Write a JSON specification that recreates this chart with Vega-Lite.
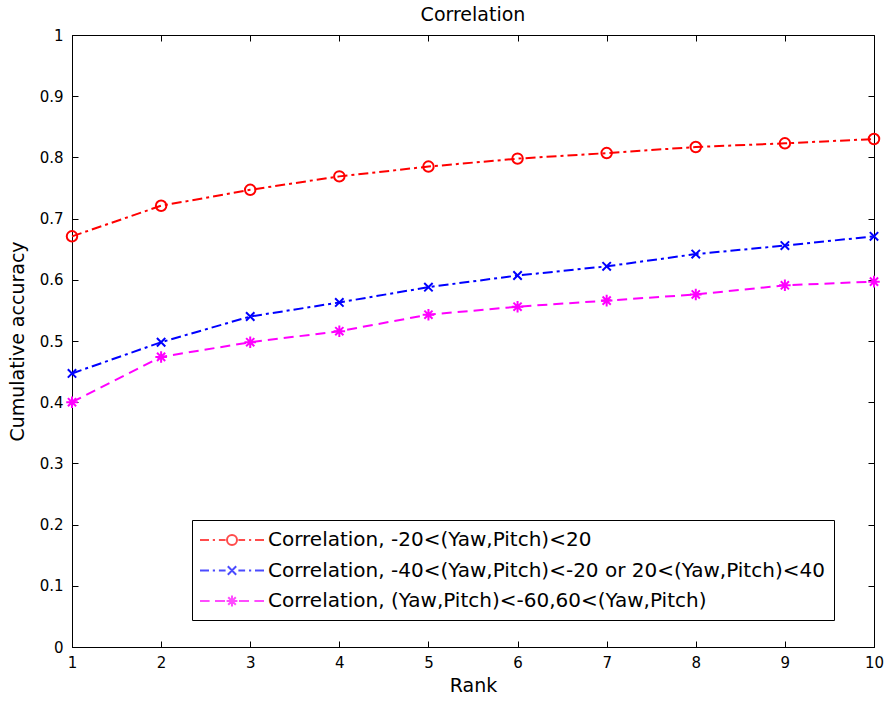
{
  "$schema": "https://vega.github.io/schema/vega-lite/v6.json",
  "width": 802,
  "height": 612,
  "autosize": {"type": "none"},
  "padding": {"left": 72, "top": 35, "right": 14, "bottom": 57},
  "background": "white",
  "title": {"text": "Correlation", "fontSize": 19, "font": "DejaVu Sans", "fontWeight": "normal", "offset": 3, "color": "black"},
  "config": {
    "font": "DejaVu Sans",
    "view": {"stroke": "black", "strokeWidth": 1},
    "axis": {"grid": false, "domainColor": "black", "tickColor": "black", "labelColor": "black", "titleColor": "black", "labelFontSize": 15, "titleFontSize": 19, "titleFontWeight": "normal", "tickSize": -6, "labelFlush": false, "labelFont": "DejaVu Sans", "titleFont": "DejaVu Sans"}
  },
  "data": {"values": [
    {"rank": 1, "acc": 0.671, "series": "Correlation, -20<(Yaw,Pitch)<20"},
    {"rank": 2, "acc": 0.721, "series": "Correlation, -20<(Yaw,Pitch)<20"},
    {"rank": 3, "acc": 0.747, "series": "Correlation, -20<(Yaw,Pitch)<20"},
    {"rank": 4, "acc": 0.769, "series": "Correlation, -20<(Yaw,Pitch)<20"},
    {"rank": 5, "acc": 0.785, "series": "Correlation, -20<(Yaw,Pitch)<20"},
    {"rank": 6, "acc": 0.798, "series": "Correlation, -20<(Yaw,Pitch)<20"},
    {"rank": 7, "acc": 0.807, "series": "Correlation, -20<(Yaw,Pitch)<20"},
    {"rank": 8, "acc": 0.817, "series": "Correlation, -20<(Yaw,Pitch)<20"},
    {"rank": 9, "acc": 0.823, "series": "Correlation, -20<(Yaw,Pitch)<20"},
    {"rank": 10, "acc": 0.830, "series": "Correlation, -20<(Yaw,Pitch)<20"},
    {"rank": 1, "acc": 0.447, "series": "Correlation, -40<(Yaw,Pitch)<-20 or 20<(Yaw,Pitch)<40"},
    {"rank": 2, "acc": 0.498, "series": "Correlation, -40<(Yaw,Pitch)<-20 or 20<(Yaw,Pitch)<40"},
    {"rank": 3, "acc": 0.540, "series": "Correlation, -40<(Yaw,Pitch)<-20 or 20<(Yaw,Pitch)<40"},
    {"rank": 4, "acc": 0.563, "series": "Correlation, -40<(Yaw,Pitch)<-20 or 20<(Yaw,Pitch)<40"},
    {"rank": 5, "acc": 0.588, "series": "Correlation, -40<(Yaw,Pitch)<-20 or 20<(Yaw,Pitch)<40"},
    {"rank": 6, "acc": 0.607, "series": "Correlation, -40<(Yaw,Pitch)<-20 or 20<(Yaw,Pitch)<40"},
    {"rank": 7, "acc": 0.622, "series": "Correlation, -40<(Yaw,Pitch)<-20 or 20<(Yaw,Pitch)<40"},
    {"rank": 8, "acc": 0.642, "series": "Correlation, -40<(Yaw,Pitch)<-20 or 20<(Yaw,Pitch)<40"},
    {"rank": 9, "acc": 0.656, "series": "Correlation, -40<(Yaw,Pitch)<-20 or 20<(Yaw,Pitch)<40"},
    {"rank": 10, "acc": 0.671, "series": "Correlation, -40<(Yaw,Pitch)<-20 or 20<(Yaw,Pitch)<40"},
    {"rank": 1, "acc": 0.400, "series": "Correlation, (Yaw,Pitch)<-60,60<(Yaw,Pitch)"},
    {"rank": 2, "acc": 0.474, "series": "Correlation, (Yaw,Pitch)<-60,60<(Yaw,Pitch)"},
    {"rank": 3, "acc": 0.498, "series": "Correlation, (Yaw,Pitch)<-60,60<(Yaw,Pitch)"},
    {"rank": 4, "acc": 0.516, "series": "Correlation, (Yaw,Pitch)<-60,60<(Yaw,Pitch)"},
    {"rank": 5, "acc": 0.543, "series": "Correlation, (Yaw,Pitch)<-60,60<(Yaw,Pitch)"},
    {"rank": 6, "acc": 0.556, "series": "Correlation, (Yaw,Pitch)<-60,60<(Yaw,Pitch)"},
    {"rank": 7, "acc": 0.566, "series": "Correlation, (Yaw,Pitch)<-60,60<(Yaw,Pitch)"},
    {"rank": 8, "acc": 0.576, "series": "Correlation, (Yaw,Pitch)<-60,60<(Yaw,Pitch)"},
    {"rank": 9, "acc": 0.591, "series": "Correlation, (Yaw,Pitch)<-60,60<(Yaw,Pitch)"},
    {"rank": 10, "acc": 0.597, "series": "Correlation, (Yaw,Pitch)<-60,60<(Yaw,Pitch)"}
  ]},
  "resolve": {"axis": {"x": "independent", "y": "independent"}},
  "layer": [
    {
      "transform": [{"filter": "datum.series === 'Correlation, -20<(Yaw,Pitch)<20'"}],
      "mark": {"type": "line", "strokeWidth": 2, "color": "#ff0000", "strokeDash": [10, 4, 3, 4]},
      "encoding": {
        "x": {"field": "rank", "type": "quantitative", "scale": {"domain": [1, 10], "nice": false, "zero": false}, "axis": {"title": "Rank", "values": [1,2,3,4,5,6,7,8,9,10], "labelPadding": 14, "titlePadding": 6}},
        "y": {"field": "acc", "type": "quantitative", "scale": {"domain": [0, 1], "nice": false}, "axis": {"title": "Cumulative accuracy", "values": [0,0.1,0.2,0.3,0.4,0.5,0.6,0.7,0.8,0.9,1], "format": ".1~f", "labelPadding": 15, "titlePadding": 12}}
      }
    },
    {
      "transform": [{"filter": "datum.series === 'Correlation, -40<(Yaw,Pitch)<-20 or 20<(Yaw,Pitch)<40'"}],
      "mark": {"type": "line", "strokeWidth": 2, "color": "#0000ff", "strokeDash": [10, 4, 3, 4]},
      "encoding": {
        "x": {"field": "rank", "type": "quantitative", "axis": null},
        "y": {"field": "acc", "type": "quantitative", "axis": null}
      }
    },
    {
      "transform": [{"filter": "datum.series === 'Correlation, (Yaw,Pitch)<-60,60<(Yaw,Pitch)'"}],
      "mark": {"type": "line", "strokeWidth": 2, "color": "#ff00ff", "strokeDash": [10, 6]},
      "encoding": {
        "x": {"field": "rank", "type": "quantitative", "axis": null},
        "y": {"field": "acc", "type": "quantitative", "axis": null}
      }
    },
    {
      "transform": [{"filter": "datum.series === 'Correlation, -20<(Yaw,Pitch)<20'"}],
      "mark": {"type": "point", "filled": false, "strokeWidth": 2, "size": 110, "opacity": 1, "color": "#ff0000", "shape": "circle"},
      "encoding": {
        "x": {"field": "rank", "type": "quantitative", "axis": null},
        "y": {"field": "acc", "type": "quantitative", "axis": null}
      }
    },
    {
      "transform": [{"filter": "datum.series === 'Correlation, -40<(Yaw,Pitch)<-20 or 20<(Yaw,Pitch)<40'"}],
      "mark": {"type": "point", "filled": false, "strokeWidth": 2, "size": 110, "opacity": 1, "color": "#0000ff", "shape": "M-0.8,-0.8L0.8,0.8M-0.8,0.8L0.8,-0.8"},
      "encoding": {
        "x": {"field": "rank", "type": "quantitative", "axis": null},
        "y": {"field": "acc", "type": "quantitative", "axis": null}
      }
    },
    {
      "transform": [{"filter": "datum.series === 'Correlation, (Yaw,Pitch)<-60,60<(Yaw,Pitch)'"}],
      "mark": {"type": "point", "filled": false, "strokeWidth": 2, "size": 110, "opacity": 1, "color": "#ff00ff", "shape": "M-1.1,0L1.1,0M0,-1.1L0,1.1M-0.78,-0.78L0.78,0.78M-0.78,0.78L0.78,-0.78"},
      "encoding": {
        "x": {"field": "rank", "type": "quantitative", "axis": null},
        "y": {"field": "acc", "type": "quantitative", "axis": null}
      }
    },
    {
      "transform": [{"filter": "datum.rank > 100"}],
      "mark": {"type": "point", "filled": false, "strokeWidth": 2},
      "encoding": {
        "x": {"field": "rank", "type": "quantitative", "axis": null},
        "y": {"field": "acc", "type": "quantitative", "axis": null},
        "color": {"field": "series", "type": "nominal",
          "scale": {"domain": ["Correlation, -20<(Yaw,Pitch)<20", "Correlation, -40<(Yaw,Pitch)<-20 or 20<(Yaw,Pitch)<40", "Correlation, (Yaw,Pitch)<-60,60<(Yaw,Pitch)"], "range": ["#ff0000", "#0000ff", "#ff00ff"]},
          "legend": {
            "title": null, "orient": "none", "legendX": 120, "legendY": 485,
            "strokeColor": "black", "fillColor": "white", "padding": 9,
            "labelFontSize": 20, "labelFont": "DejaVu Sans", "labelLimit": 800, "labelOffset": 25, "labelColor": "black",
            "rowPadding": 9.5, "symbolSize": 400, "symbolOffset": 20, "symbolStrokeWidth": 2
          }},
        "shape": {"field": "series", "type": "nominal",
          "scale": {"domain": ["Correlation, -20<(Yaw,Pitch)<20", "Correlation, -40<(Yaw,Pitch)<-20 or 20<(Yaw,Pitch)<40", "Correlation, (Yaw,Pitch)<-60,60<(Yaw,Pitch)"],
            "range": [
              "M-3.2,0L-2.3,0M-1.92,0L-1.7,0M-1.31,0L-0.64,0M-0.5,0A0.5,0.5,0,1,0,0.5,0A0.5,0.5,0,1,0,-0.5,0M0.64,0L1.31,0M1.7,0L1.92,0M2.3,0L3.2,0",
              "M-3.2,0L-2.3,0M-1.92,0L-1.7,0M-1.31,0L-0.64,0M-0.42,-0.42L0.42,0.42M-0.42,0.42L0.42,-0.42M0.64,0L1.31,0M1.7,0L1.92,0M2.3,0L3.2,0",
              "M-3.2,0L-2.24,0M-1.7,0L-0.7,0M-0.54,0L0.54,0M0,-0.54L0,0.54M-0.38,-0.38L0.38,0.38M-0.38,0.38L0.38,-0.38M0.7,0L1.7,0M2.24,0L3.2,0"
            ]},
          "legend": {"title": null}}
      }
    },
    {
      "mark": {"type": "point", "opacity": 0},
      "encoding": {
        "x": {"field": "rank", "type": "quantitative", "axis": {"orient": "top", "values": [1,2,3,4,5,6,7,8,9,10], "labels": false, "title": null, "domain": false}},
        "y": {"field": "acc", "type": "quantitative", "axis": {"orient": "right", "values": [0,0.1,0.2,0.3,0.4,0.5,0.6,0.7,0.8,0.9,1], "labels": false, "title": null, "domain": false}}
      }
    }
  ]
}
